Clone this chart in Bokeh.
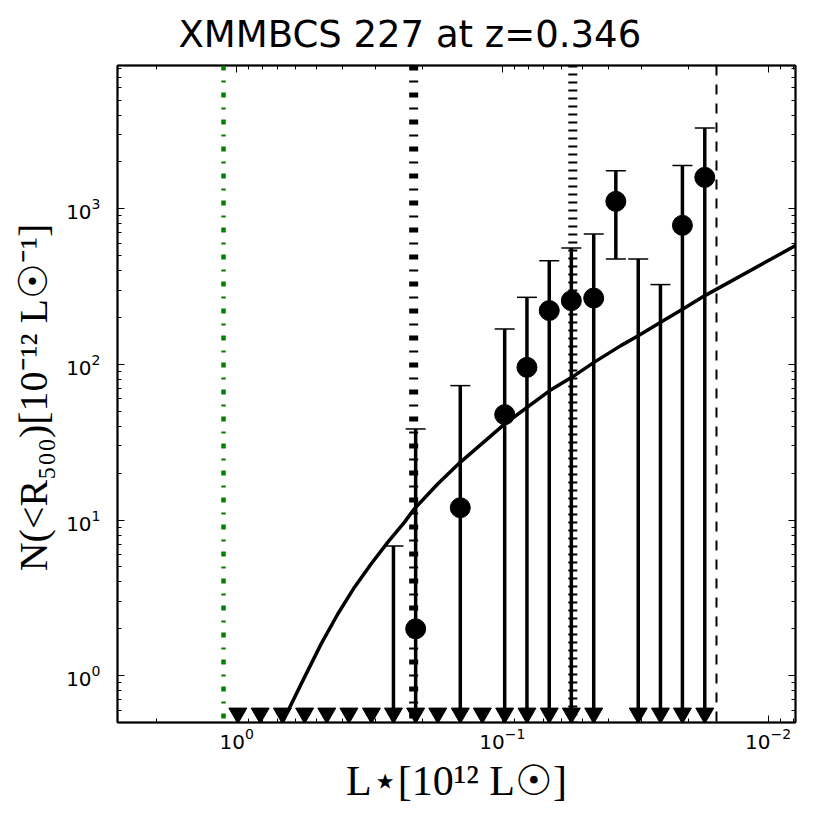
import math
from bokeh.plotting import figure
from bokeh.models import Range1d, LogAxis, FixedTicker, LogTicker, LogTickFormatter, Span, Title
from bokeh.embed import file_html
from bokeh.resources import INLINE

# ---------------- data ----------------
TITLE = "XMMBCS 227 at z=0.346"
X_LABEL = "L⋆[10¹² L☉]"
Y_LABEL = "N(<R₅₀₀)[10⁻¹² L☉⁻¹]"

NAN = float("nan")

# luminosity bins (10^12 Lsun)
bin_L = [0.990, 0.816, 0.673, 0.555, 0.458, 0.378, 0.311, 0.257, 0.212, 0.175, 0.144,
         0.119, 0.0980, 0.0808, 0.0666, 0.0550, 0.0453, 0.0374, 0.0308, 0.0254, 0.0210, 0.0173]
# measured N(<R500) per bin (nan = no measured point)
bin_N = [NAN, NAN, NAN, NAN, NAN, NAN, NAN, NAN, 2.0, NAN, 12.0,
         NAN, 47.6, 95.8, 222, 257, 267, 1117, NAN, NAN, 783, 1593]
# upper end of error bars
bin_upper = [NAN, NAN, NAN, NAN, NAN, NAN, NAN, 6.82, 38.5, NAN, 73.1,
             NAN, 169, 270, 464, 561, 690, 1759, 476, 326, 1896, 3311]
# lower end of error bars (nan = lower limit arrow)
bin_lower = [NAN] * 17 + [476] + [NAN] * 4
# bins whose lower side is an arrow (triangle at the bottom)
bin_arrow = [True] * 17 + [False] + [True] * 4

# model curve
curve_L = [0.680, 0.556, 0.481, 0.4164, 0.3607, 0.3121, 0.2702, 0.2339, 0.2146, 0.1752,
           0.1441, 0.0979, 0.0663, 0.0548, 0.0452, 0.0358, 0.0308, 0.02536, 0.0209,
           0.01728, 0.00788]
curve_N = [0.484, 0.975, 1.60, 2.49, 3.69, 5.22, 7.19, 9.66, 11.79, 17.06,
           23.5, 41.5, 67.9, 82.6, 103.1, 132.1, 153, 186.5, 227,
           277, 580]

# vertical reference lines
vline_green = 1.121
vline_dashdot = 0.2157
vline_dotted = 0.0543
vline_dashed = 0.01563

x_limits = (2.81, 0.00788)
y_limits = (0.5, 8340)
ARROW_LEVEL = 0.573

x_major = [1e-2, 1e-1, 1e0]
y_major = [1e0, 1e1, 1e2, 1e3]

# ---------------- figure ----------------
def minor_ticks(exps, lo, hi):
    out = []
    for e in exps:
        for k in range(2, 10):
            v = k * 10.0 ** e
            if lo <= v <= hi:
                out.append(v)
    return out

x_minor = minor_ticks(range(-3, 1), min(x_limits), max(x_limits))
y_minor = minor_ticks(range(-1, 4), min(y_limits), max(y_limits))

p = figure(width=814, height=814, x_axis_type="log", y_axis_type="log",
           x_range=Range1d(*x_limits), y_range=Range1d(*y_limits),
           output_backend="svg", toolbar_location=None,
           min_border_left=116, min_border_right=19, min_border_top=65, min_border_bottom=92)

p.background_fill_color = "white"
p.border_fill_color = "white"
p.grid.visible = False
p.outline_line_color = "black"
p.outline_line_width = 1.5

p.title.text = TITLE
p.title.text_font = "DejaVu Sans"
p.title.text_font_size = "37px"
p.title.text_font_style = "normal"
p.title.text_color = "black"
p.title.align = "left"
p.title.offset = 61
p.title.standoff = 20

def style_axis(ax, ticks, minors, labels=True):
    ax.ticker = FixedTicker(ticks=ticks, minor_ticks=minors)
    ax.formatter = LogTickFormatter(ticker=LogTicker())
    ax.axis_line_color = "black"
    ax.axis_line_width = 2
    ax.major_tick_in = 7
    ax.major_tick_out = 0
    ax.minor_tick_in = 4
    ax.minor_tick_out = 0
    ax.major_tick_line_color = "black"
    ax.minor_tick_line_color = "black"
    ax.major_tick_line_width = 1
    ax.minor_tick_line_width = 1
    ax.major_label_text_font = "DejaVu Sans"
    if labels:
        ax.major_label_text_font_size = "20px"
        ax.major_label_text_color = "black"
    else:
        ax.major_label_text_font_size = "2px"
        ax.major_label_text_alpha = 0
        ax.major_label_standoff = 0

xa = p.xaxis[0]
ya = p.yaxis[0]
style_axis(xa, x_major, x_minor)
style_axis(ya, y_major, y_minor)
xa.major_label_standoff = 5
ya.major_label_standoff = 17

xa.axis_label = X_LABEL
xa.axis_label_text_font = "Liberation Serif"
xa.axis_label_text_font_size = "42px"
xa.axis_label_text_font_style = "normal"
xa.axis_label_text_color = "black"
xa.axis_label_standoff = 6

top = LogAxis()
style_axis(top, x_major, x_minor, labels=False)
p.add_layout(top, "above")
right = LogAxis()
style_axis(right, y_major, y_minor, labels=False)
p.add_layout(right, "right")

# y label as a side title
ylab = Title(text=Y_LABEL, align="center", standoff=16,
             text_font="Liberation Serif", text_font_size="40px",
             text_font_style="normal", text_color="black")
p.add_layout(ylab, "left")

# reference lines
p.add_layout(Span(location=vline_green, dimension="height", line_color="#008000",
                  line_width=4.5, line_dash="5 10 2 10"))
p.add_layout(Span(location=vline_dashdot, dimension="height", line_color="black",
                  line_width=9, line_dash="5 10 2 10"))
p.add_layout(Span(location=vline_dotted, dimension="height", line_color="black",
                  line_width=9, line_dash="2 6"))
p.add_layout(Span(location=vline_dashed, dimension="height", line_color="black",
                  line_width=2, line_dash="10 9"))

# model curve
p.line(curve_L, curve_N, line_color="black", line_width=3.5)

# error bar stems
sx, s0, s1 = [], [], []
for L, up, lo, arr in zip(bin_L, bin_upper, bin_lower, bin_arrow):
    if not math.isnan(up):
        sx.append(L)
        s1.append(up)
        s0.append(ARROW_LEVEL if arr else lo)
p.segment(x0=sx, y0=s0, x1=sx, y1=s1, line_color="black", line_width=3.5)

# caps
cx = [L for L, up in zip(bin_L, bin_upper) if not math.isnan(up)]
cy = [up for up in bin_upper if not math.isnan(up)]
lcx = [L for L, lo in zip(bin_L, bin_lower) if not math.isnan(lo)]
lcy = [lo for lo in bin_lower if not math.isnan(lo)]
p.scatter(cx + lcx, cy + lcy, marker="dash", size=20, line_color="black", line_width=1.5)

# arrow heads
ax_ = [L for L, a in zip(bin_L, bin_arrow) if a]
p.scatter(ax_, [ARROW_LEVEL] * len(ax_), marker="inverted_triangle", size=18,
          fill_color="black", line_color="black", line_width=1)

# measured points
px = [L for L, n in zip(bin_L, bin_N) if not math.isnan(n)]
py = [n for n in bin_N if not math.isnan(n)]
p.scatter(px, py, marker="circle", size=20, fill_color="black", line_color="black")

open("out.html", "w").write(file_html(p, INLINE))
